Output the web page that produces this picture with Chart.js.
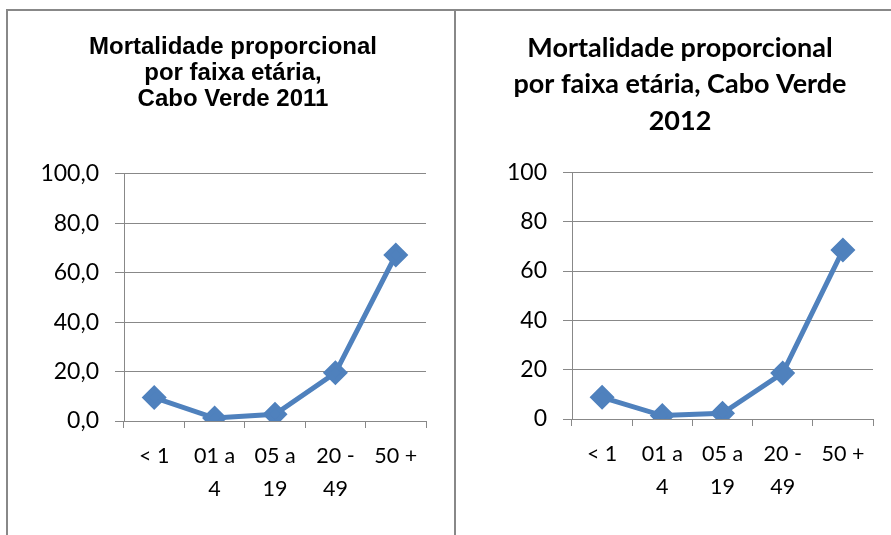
<!DOCTYPE html>
<html>
<head>
<meta charset="utf-8">
<script src="https://cdn.jsdelivr.net/npm/chart.js@4"></script>
<style>
  html, body { margin: 0; padding: 0; background: #fff; }
  body { width: 891px; height: 535px; position: relative; overflow: hidden; }
  .line { position: absolute; background: #888; }
  .box { position: absolute; }
</style>
</head>
<body>
<div class="line" style="left:6px; top:9px; width:885px; height:2px;"></div>
<div class="line" style="left:6px; top:9px; width:2px; height:526px;"></div>
<div class="line" style="left:454px; top:9px; width:2px; height:526px;"></div>
<div class="box" style="left:10px; top:12px; width:444px; height:523px;"><canvas id="chart2011"></canvas></div>
<div class="box" style="left:458px; top:12px; width:433px; height:523px;"><canvas id="chart2012"></canvas></div>
<script>
const ageGroups = [["< 1"], ["01 a", "4"], ["05 a", "19"], ["20 -", "49"], ["50 +"]];
const values2011 = [9.5, 1.2, 2.7, 19.5, 67.2];
const values2012 = [8.8, 1.4, 2.3, 18.6, 68.5];
const yTicks = [0, 20, 40, 60, 80, 100];

const gray = "#888888";
const blue = "#4F81BD";
const xFont = { family: "Lato", size: 21.5, lineHeight: 1.53 };
const yFont = { family: "Lato", size: 23, lineHeight: 1.2 };

function makeChart(id, opts) {
  return new Chart(document.getElementById(id), {
    type: "line",
    data: {
      labels: ageGroups,
      datasets: [{
        data: opts.values,
        borderColor: blue,
        backgroundColor: blue,
        borderWidth: 5,
        pointStyle: "rectRot",
        pointRadius: 9,
        pointHoverRadius: 9,
        tension: 0,
      }],
    },
    options: {
      responsive: true,
      maintainAspectRatio: false,
      animation: false,
      events: [],
      layout: { padding: { left: opts.padLeft, right: opts.padRight, top: 0, bottom: 0 } },
      plugins: {
        legend: { display: false },
        tooltip: { enabled: false },
        title: {
          display: true,
          text: opts.title,
          color: "#000",
          font: opts.titleFont,
          padding: opts.titlePadding,
        },
      },
      scales: {
        x: {
          type: "category",
          offset: true,
          grid: { offset: true, drawOnChartArea: false, color: gray, tickLength: 7, lineWidth: 1 },
          border: { color: gray, width: 1 },
          ticks: { color: "#000", font: xFont, padding: 12, maxRotation: 0, autoSkip: false },
          afterFit: (s) => { s.height = opts.xHeight; },
        },
        y: {
          min: 0,
          max: 100,
          afterBuildTicks: (s) => { s.ticks = yTicks.map((v) => ({ value: v })); },
          grid: { color: gray, tickLength: 9, lineWidth: 1 },
          border: { color: gray, width: 1 },
          ticks: {
            color: "#000",
            font: yFont,
            padding: 16,
            callback: opts.fmt,
          },
          afterFit: (s) => { s.width = 114 - opts.padLeft; },
        },
      },
    },
  });
}

makeChart("chart2011", {
  values: values2011,
  title: ["Mortalidade proporcional", "por faixa etária,", "Cabo Verde 2011"],
  titleFont: { family: "Liberation Sans", size: 24, weight: "bold", lineHeight: 1.083 },
  titlePadding: { top: 22, bottom: 62 },
  padLeft: 30,
  padRight: 28,
  xHeight: 114,
  fmt: (v) => v.toFixed(1).replace(".", ","),
});

makeChart("chart2012", {
  values: values2012,
  title: ["Mortalidade proporcional", "por faixa etária, Cabo Verde", "2012"],
  titleFont: { family: "Lato", size: 27, weight: "bold", lineHeight: 1.35 },
  titlePadding: { top: 18, bottom: 33 },
  padLeft: 29,
  padRight: 18,
  xHeight: 116,
  fmt: (v) => String(v),
});
</script>
</body>
</html>
